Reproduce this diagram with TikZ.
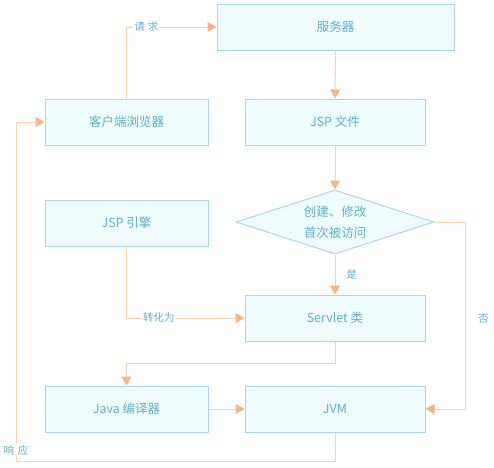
\documentclass[tikz,border=0pt]{standalone}
\usepackage{fontspec}
\setmainfont{Noto Sans CJK SC}
\usetikzlibrary{arrows.meta,shapes.geometric}
\definecolor{boxline}{HTML}{A9D9E6}
\definecolor{boxfill}{HTML}{EFFCFE}
\definecolor{txt}{HTML}{5FB0CA}
\definecolor{linec}{HTML}{FDD0AA}
\definecolor{tipc}{HTML}{FBB47E}
\begin{document}
\begin{tikzpicture}[x=1pt, y=-1pt,
    box/.style={draw=boxline, line width=1pt, fill=boxfill, text=txt, inner sep=0pt,
        minimum width=163pt, minimum height=46pt, font=\fontsize{12.5}{16}\selectfont},
    wide/.style={box, minimum width=180pt},
    flow/.style={draw=linec, line width=1pt, -{Triangle[width=10pt,length=9pt,color=tipc]}},
    lbl/.style={text=txt, inner sep=1pt, font=\fontsize{10.5}{12}\selectfont}]
    \useasboundingbox (0,0) rectangle (494,467);

    % Boxes
    \node[box, minimum width=237pt] (server) at (335.5,27) {服务器};
    \node[box] (browser) at (126.5,122) {客户端浏览器};
    \node[wide] (jspfile) at (335,122) {JSP 文件};
    \node[box, diamond, aspect=3.1, align=center, minimum width=198pt, minimum height=64pt,
        font=\fontsize{12.5}{21}\selectfont] (decide) at (335,222) {创建、修改\\首次被访问};
    \node[box] (engine) at (126.5,223) {JSP 引擎};
    \node[wide] (servlet) at (335,318) {Servlet 类};
    \node[box] (javac) at (126.5,409) {Java 编译器};
    \node[wide] (jvm) at (335,409) {JVM};
    \coordinate (back) at (16,461);

    % Connectors
    \draw[flow] (browser.north) |- node[lbl, fill=white, pos=0.61] {请\hspace{3pt}求} (server.west);
    \draw[flow] (server) -- (jspfile);
    \draw[flow] (jspfile) -- (decide);
    \draw[flow] (decide) -- node[lbl, right=10pt] {是} (servlet);
    \draw[flow] (decide.east) -- ++(31,0) |- node[lbl, right=11pt, pos=0.26] {否} (jvm.east);
    \draw[flow] (engine.south) |- node[lbl, fill=white, pos=0.637] {转化为} (servlet.west);
    \draw[flow] (servlet.south) -- ++(0,22) -| (javac.north);
    \draw[flow] (javac) -- (jvm);
    \draw[flow] (jvm.south) |- (back) |- node[lbl, fill=white, pos=0.016] {响\hspace{4pt}应} (browser.west);
\end{tikzpicture}
\end{document}
